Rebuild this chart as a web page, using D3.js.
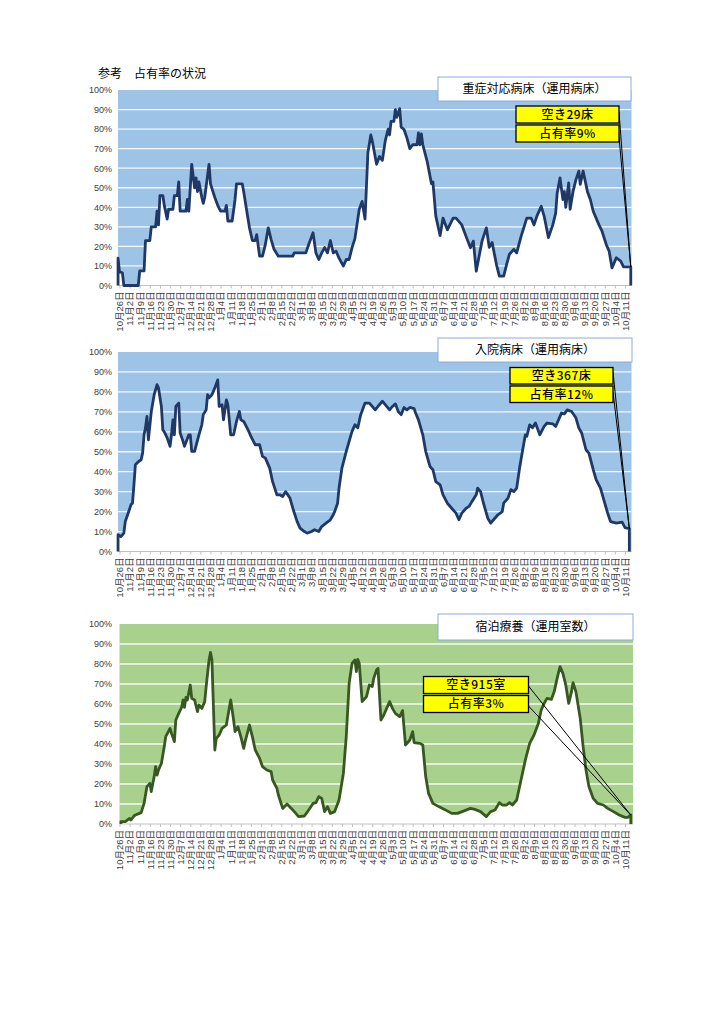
<!DOCTYPE html>
<html lang="ja">
<head>
<meta charset="UTF-8">
<title>占有率の状況</title>
<script src="https://d3js.org/d3.v7.min.js"></script>
<style>
  body { margin: 0; background: #fff; }
  text { font-family: "Liberation Sans", "Noto Sans CJK JP", sans-serif; }
  .jp { font-family: "Noto Sans CJK JP", sans-serif; }
</style>
</head>
<body>
<svg width="724" height="1024"></svg>
<script>
// weekly tick labels (day 0 = 10月26日)
const tickLabels = ["10月26日","11月2日","11月9日","11月16日","11月23日","11月30日","12月7日","12月14日","12月21日","12月28日",
  "1月4日","1月11日","1月18日","1月25日","2月1日","2月8日","2月15日","2月22日","3月1日","3月8日","3月15日","3月22日","3月29日",
  "4月5日","4月12日","4月19日","4月26日","5月3日","5月10日","5月17日","5月24日","5月31日","6月7日","6月14日","6月21日","6月28日",
  "7月5日","7月12日","7月19日","7月26日","8月2日","8月9日","8月16日","8月23日","8月30日","9月6日","9月13日","9月20日","9月27日",
  "10月4日","10月11日"];

const titles = ["重症対応病床（運用病床）", "入院病床（運用病床）", "宿泊療養（運用室数）"];
const vacancyTexts = ["空き29床", "空き367床", "空き915室"];
const rateTexts = ["占有率9%", "占有率12%", "占有率3%"];

// [day, occupancy %]
const severe = [[-1,14],[0,7],[2,6.5],[3,0],[13,0],[14,7.5],[17,7.5],[18,23],[21,23],[22,30],[25,30],[26,38],[27,31],[28,46],[30,46],
  [31,41],[33,34],[34,39],[37,39],[38,46],[40,46],[41,53],[42,38],[46,38],[47,44],[48,38],[50,62],[52,50],[53,55],[54,48],[55,53],
  [57,45],[58,42],[59,45],[62,62],[63,52],[66,45],[68,41],[70,38],[73,38],[74,41],[75,33],[78,33],[80,44],[81,52],[85,52],[86,48],
  [89,34],[90,29.5],[92,23],[94,23],[95,26],[97,15],[99,15],[100,18],[101,21],[103,29.5],[105,23.5],[107,18.5],[110,15],[120,15],
  [121,16.7],[129,16.7],[131,21],[134,27],[136,16.7],[138,13.3],[140,16.7],[142,19.4],[144,16.7],[146,23],[148,16.7],[150,17.5],
  [152,14],[155,10],[157,13.3],[159,13.3],[161,19.4],[163,24],[166,39],[168,43],[170,34],[172,68],[174,77],[175,74],[177,66],
  [178,62],[180,66],[182,64],[184,74],[186,80],[187,77],[188,84],[190,84],[191,90],[192,86],[194,90.5],[195,81],[197,79.8],
  [199,75.5],[201,70],[203,72],[206,72],[207,78],[208,72],[209,77.5],[210,72],[213,63.5],[216,52],[217,53],[219,35.5],[222,25.5],
  [224,34.5],[227,28.5],[231,34.5],[233,34.5],[237,31],[240,25],[243,19.3],[245,22.7],[247,7.3],[251,22.7],[254,29.5],[256,19.5],
  [258,22],[261,10.7],[263,4.8],[266,4.8],[268,10.7],[270,16],[273,18.5],[275,16.7],[278,25],[282,34.5],[285,34.5],[287,31],
  [289,35.5],[292,40.5],[294,35.5],[297,24.5],[300,31],[302,37],[303,47],[305,55],[307,44],[308,48],[309,40],[311,52.5],[312,39],
  [314,48],[316,54],[318,58.5],[319,51.7],[321,58.5],[324,48],[326,44],[328,38],[332,31],[334,28],[337,21],[339,17.6],[341,9],
  [344,14.2],[347,12.5],[349,9.5],[354,9.5]];

const inpatient = [[-1,8.4],[1,7.5],[3,9.2],[4,15],[6,19.2],[8,23.5],[9,24.2],[10,33.4],[11,43.5],[13,45],[15,46],[16,49.3],[17,58.5],
  [18,62],[19,67.7],[20,56],[22,70],[24,78.6],[26,83.6],[27,82],[29,72.7],[30,61],[31,60],[33,57],[35,52.7],[36,58.5],[37,66],
  [38,58.5],[39,72.7],[41,74.4],[42,59.4],[44,55.2],[45,52.7],[48,58.5],[49,58.5],[50,50.2],[52,50.2],[55,58.5],[57,63.5],[58,68.6],
  [60,71],[61,78.6],[62,77],[64,78.6],[66,82],[68,86],[69,72.7],[71,73.6],[72,66],[74,76],[75,73.6],[77,58.5],[79,58.5],[81,65.2],
  [83,70.2],[84,66],[86,65.2],[89,61],[91,57.7],[94,53.5],[97,53.5],[99,47.7],[101,46.8],[104,41.8],[106,35],[109,28.4],[111,28.4],
  [113,27.6],[115,30],[118,26.8],[120,21.7],[123,15],[125,11.7],[128,10],[130,9.2],[133,10],[135,10.9],[138,10],[140,12.5],
  [143,14.2],[146,15.9],[148,18.4],[149,20],[151,24.2],[152,31.8],[154,41.8],[157,50.2],[159,55.2],[161,60.2],[163,63.5],[165,62],
  [167,68.6],[170,74.4],[173,74.4],[175,72.7],[177,71],[180,73.6],[182,75.3],[184,73.6],[187,71],[189,72.7],[191,74],[193,70.2],
  [195,68.6],[197,72.2],[199,71],[201,72.2],[204,71.6],[205,69.4],[207,66],[210,58.5],[212,50.2],[215,42.6],[217,41],[219,35],
  [222,33.4],[224,28.4],[227,24.2],[230,21.7],[233,19.2],[235,15.9],[237,19.2],[240,21.7],[242,22.6],[244,25],[247,28.4],[248,31.8],
  [250,30],[252,24.2],[255,16.7],[257,14.2],[259,15.9],[262,18.4],[265,20],[266,24.2],[269,26.8],[271,31],[273,30],[275,31.8],
  [277,41.8],[279,50.2],[281,58.5],[282,57.7],[284,63.5],[286,62],[288,64.4],[291,58.5],[294,62.7],[296,64.4],[300,64],[302,62.7],
  [304,66],[306,69.4],[308,69],[310,71],[313,70.2],[316,67],[318,62],[320,59.4],[323,51],[325,49.3],[328,41],[330,36],[333,31.8],
  [335,26.8],[338,19.2],[340,15],[344,14.2],[348,14.7],[350,12],[353,11.4]];

const hotel = [[1,1.2],[4,1.2],[7,2.8],[8,2],[10,4],[11,4.5],[15,5.7],[17,10.3],[19,18.7],[21,20.3],[22,16.2],[24,23.7],[25,28.7],
  [26,24.5],[27,27],[29,30.3],[31,38.7],[32,43.7],[35,47.8],[36,45.3],[38,41.2],[39,52],[41,55.3],[43,58.3],[44,62],[45,58.3],
  [46,63.3],[47,62],[49,69.5],[50,62.8],[52,62],[54,56.2],[55,59.5],[57,57.8],[59,61.2],[60,68.7],[62,82],[63,85.8],[64,82],
  [66,37],[67,42.8],[69,44.5],[71,47.8],[74,49.5],[75,53.7],[77,62],[79,52],[80,46.2],[82,48.7],[84,43.7],[86,37.8],[87,41.2],
  [90,49.5],[92,43.7],[94,37],[97,32.8],[99,28.7],[102,27],[105,26.2],[106,22],[109,17.8],[110,14.5],[113,7.8],[116,10],[119,7.8],
  [121,6.2],[124,3.7],[128,4],[131,7],[134,10.3],[136,10.7],[138,13.7],[140,12.8],[142,6.2],[144,8.7],[146,5.3],[149,6.2],[152,12],
  [155,25.3],[157,43.7],[159,70.3],[161,80.3],[163,82],[164,76.2],[165,82.3],[166,80.3],[168,61.2],[171,63.7],[173,69.5],
  [175,68.7],[176,72.8],[178,77],[179,77.8],[181,52],[183,54.5],[187,61.2],[189,57.8],[191,55.3],[194,53.7],[196,56.7],[198,39.5],
  [201,42],[203,46.2],[204,40.7],[208,40.3],[210,39.5],[212,23.7],[214,15.3],[217,10.3],[221,8.7],[225,7.3],[230,5.3],[234,5.3],
  [239,6.7],[243,7.8],[246,7.3],[250,6.2],[254,3.7],[257,6.2],[260,7],[263,10.7],[265,9.5],[268,9.5],[270,10.7],[272,9.5],
  [275,12],[278,22],[281,32],[284,40.3],[287,44.5],[290,50.3],[292,57],[294,60.3],[296,62.8],[299,62.3],[301,66.2],[303,72.8],
  [305,78.7],[307,75.3],[309,69.5],[311,60.3],[313,66.2],[314,70.7],[316,66.2],[319,52.8],[321,38.7],[323,27],[325,18.7],
  [328,12.8],[331,10.3],[335,9.5],[338,7.8],[342,6.2],[346,4.5],[350,3.3],[352,3.3],[354,4.5]];

const svg = d3.select("svg");

svg.append("text").attr("class", "jp")
  .attr("x", 98).attr("y", 78)
  .attr("font-size", 12).attr("fill", "#000")
  .text("参考　占有率の状況");

const charts = [
  { data: severe, top: 90, bottom: 285.5, left: 118, right: 631.5, bg: "#9dc3e6", line: "#203864",
    box: [438, 77, 193, 24], yb: [516, 106, 103, 17], lineY: [112, 137] },
  { data: inpatient, top: 352, bottom: 551.5, left: 118, right: 631.5, bg: "#9dc3e6", line: "#203864",
    box: [438, 338, 194, 24], yb: [510, 367.5, 103, 16.5], lineY: [372, 392] },
  { data: hotel, top: 624, bottom: 824, left: 119.5, right: 633, bg: "#a9d18e", line: "#385723",
    box: [438, 614, 195, 26], yb: [423.5, 676.5, 105, 17], lineY: [686, 706] }
];

// shared day scale
const x = d3.scaleLinear().domain([0, 350]).range([119.5, 625]);

charts.forEach((c, i) => {
  const y = d3.scaleLinear().domain([0, 100]).range([c.bottom, c.top]);
  const g = svg.append("g");

  g.append("rect")
    .attr("x", c.left).attr("y", c.top)
    .attr("width", c.right - c.left).attr("height", c.bottom - c.top)
    .attr("fill", c.bg);

  // white gridlines
  g.selectAll(".grid").data(d3.range(10, 100, 10)).enter()
    .append("line")
    .attr("x1", c.left).attr("x2", c.right)
    .attr("y1", d => y(d)).attr("y2", d => y(d))
    .attr("stroke", "#fff").attr("stroke-width", 1.3)
    .attr("opacity", 0.9);

  const first = c.data[0], last = c.data[c.data.length - 1];
  const pts = [[first[0], 0]].concat(c.data, [[last[0], 0]]);

  g.append("path").datum(c.data)
    .attr("fill", "#fff")
    .attr("d", d3.area().x(d => x(d[0])).y0(y(0)).y1(d => y(d[1])));

  // x axis
  const xAxis = d3.axisBottom(x)
    .tickValues(d3.range(0, 351, 7))
    .tickFormat((d, k) => tickLabels[k])
    .tickSize(3).tickSizeOuter(0);
  const ax = g.append("g").attr("transform", `translate(0,${c.bottom})`).call(xAxis);
  ax.select(".domain").attr("stroke", "#bfbfbf").attr("d", `M${c.left},0H${c.right}`);
  ax.selectAll(".tick line").attr("stroke", "#bfbfbf");
  ax.selectAll(".tick text")
    .attr("font-size", 9.5).attr("fill", "#404040")
    .attr("text-anchor", "end")
    .attr("transform", "rotate(-90)")
    .attr("x", -6).attr("y", 0).attr("dy", "0.35em");

  // y axis
  const yAxis = d3.axisLeft(y).tickValues(d3.range(0, 101, 10))
    .tickFormat(d => d + "%").tickSize(0);
  const ay = g.append("g").attr("transform", `translate(${112},0)`).call(yAxis);
  ay.select(".domain").remove();
  ay.selectAll(".tick text").attr("font-size", 9).attr("fill", "#404040").attr("x", 0);

  g.append("path").datum(pts)
    .attr("fill", "none")
    .attr("stroke", c.line).attr("stroke-width", 2.8)
    .attr("stroke-linejoin", "round")
    .attr("d", d3.line().x(d => x(d[0])).y(d => y(d[1])));

  // title box
  const [bx, by, bw, bh] = c.box;
  g.append("rect").attr("x", bx).attr("y", by).attr("width", bw).attr("height", bh)
    .attr("fill", "#fff").attr("stroke", "#8faadc").attr("stroke-width", 1);
  g.append("text").attr("class", "jp")
    .attr("x", bx + bw / 2).attr("y", by + bh / 2).attr("dy", "0.36em")
    .attr("text-anchor", "middle").attr("font-size", 12).attr("fill", "#000")
    .text(titles[i]);

  // callout lines to the latest value
  const ex = x(last[0]), ey = y(last[1]);
  const [yx, yy, yw, yh] = c.yb;
  c.lineY.forEach(ly => {
    g.append("line").attr("x1", yx + yw).attr("y1", ly).attr("x2", ex).attr("y2", ey)
      .attr("stroke", "#000").attr("stroke-width", 1);
  });

  [vacancyTexts[i], rateTexts[i]].forEach((t, k) => {
    const ty = yy + k * (yh + 2);
    g.append("rect").attr("x", yx).attr("y", ty).attr("width", yw).attr("height", yh)
      .attr("fill", "#ffff00").attr("stroke", "#000").attr("stroke-width", 1.3);
    g.append("text").attr("class", "jp")
      .attr("x", yx + yw / 2).attr("y", ty + yh / 2).attr("dy", "0.36em")
      .attr("text-anchor", "middle").attr("font-size", 12).attr("font-weight", 500).attr("fill", "#000")
      .attr("letter-spacing", 0.5)
      .text(t);
  });
});
</script>
</body>
</html>
